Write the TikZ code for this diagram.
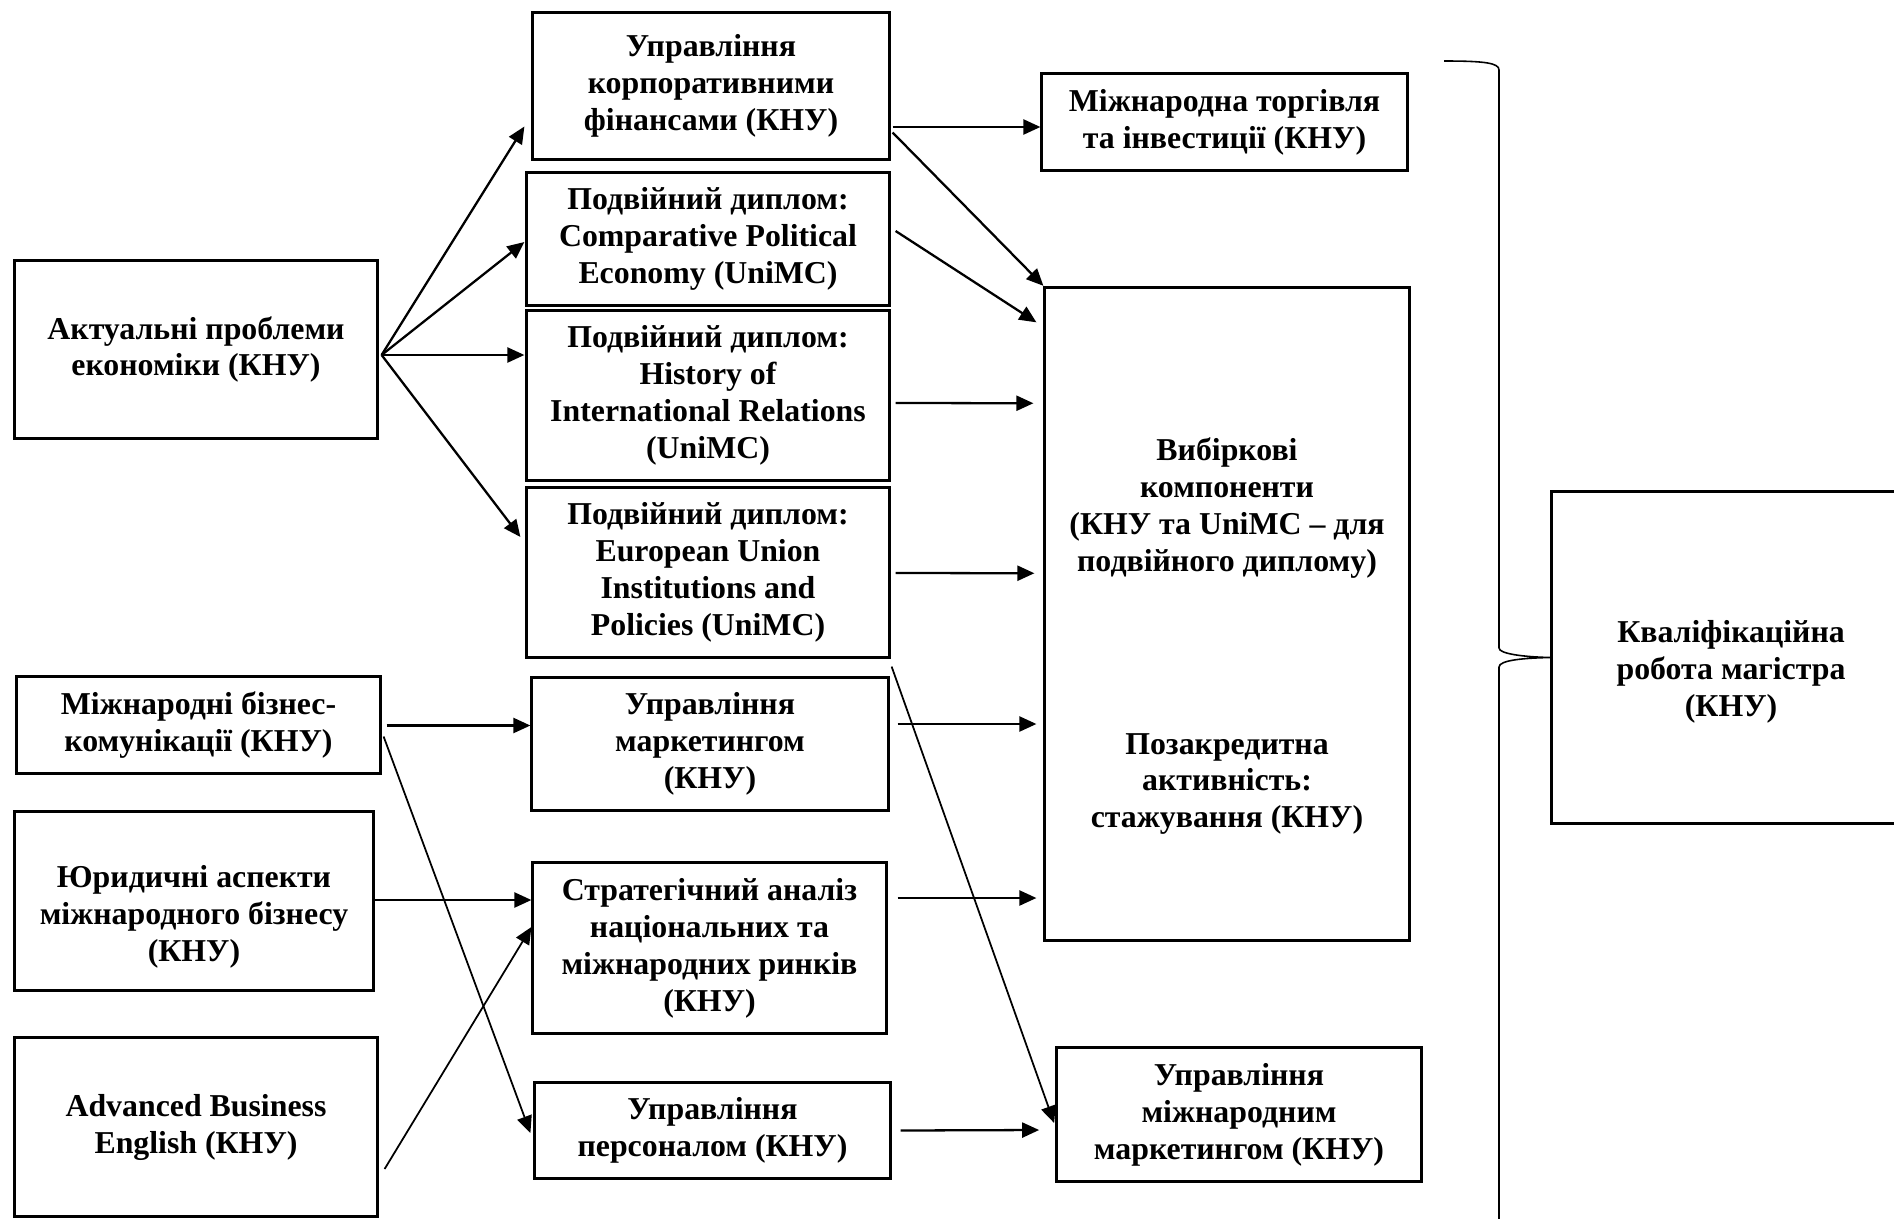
\documentclass[tikz,border=0pt]{standalone}
\usepackage{fontspec}
\setmainfont{Liberation Serif}
\usetikzlibrary{arrows.meta}

\newcommand{\boxfont}{\fontsize{9.05}{10.5}\selectfont\bfseries}

\tikzstyle{boxstyle} = [draw, line width=0.85pt, align=center, inner sep=0, font=\boxfont]
\tikzstyle{textstyle} = [align=center, inner sep=0, font=\boxfont]
\tikzstyle{arrowstyle} = [-{Triangle[length=0.17cm, width=0.15cm]}, line width=0.65pt]
\tikzstyle{thinarrow} = [arrowstyle, line width=0.5pt]
\tikzstyle{bracestyle} = [line width=0.45pt]

\begin{document}
\begin{tikzpicture}[x=0.01cm, y=-0.01cm]
  \useasboundingbox (0,0) rectangle (1894,1218);
  \clip (0,0) rectangle (1894,1218);

  % left column
  \node at (196, 349.5) [boxstyle, minimum width=3.62cm, minimum height=1.77cm] (A) {Актуальні проблеми\\економіки (КНУ)};
  \node at (198.5, 725) [boxstyle, minimum width=3.63cm, minimum height=0.96cm] (C) {Міжнародні бізнес-\\комунікації (КНУ)};
  \node at (194, 901) [boxstyle, minimum width=3.58cm, minimum height=1.78cm,
    label={[textstyle, yshift=-0.16cm]center:Юридичні аспекти\\міжнародного бізнесу\\(КНУ)}] (D) {};
  \node at (196, 1127) [boxstyle, minimum width=3.62cm, minimum height=1.78cm] (E) {Advanced Business\\English (КНУ)};

  % middle column
  \node at (711, 86) [boxstyle, minimum width=3.56cm, minimum height=1.47cm] (B1) {Управління\\корпоративними\\фінансами (КНУ)};
  \node at (708, 239) [boxstyle, minimum width=3.62cm, minimum height=1.32cm] (B2) {Подвійний диплом:\\Comparative Political\\Economy (UniMC)};
  \node at (708, 395.5) [boxstyle, minimum width=3.62cm, minimum height=1.69cm] (B3) {Подвійний диплом:\\History of\\International Relations\\(UniMC)};
  \node at (708, 572.5) [boxstyle, minimum width=3.62cm, minimum height=1.69cm] (B4) {Подвійний диплом:\\European Union\\Institutions and\\Policies (UniMC)};
  \node at (710, 744) [boxstyle, minimum width=3.56cm, minimum height=1.32cm] (F) {Управління\\маркетингом\\(КНУ)};
  \node at (709.5, 948) [boxstyle, minimum width=3.53cm, minimum height=1.70cm] (G) {Стратегічний аналіз\\національних та\\міжнародних ринків\\(КНУ)};
  \node at (712.5, 1130.5) [boxstyle, minimum width=3.55cm, minimum height=0.95cm] (H) {Управління\\персоналом (КНУ)};

  % right column
  \node at (1224.5, 122) [boxstyle, minimum width=3.65cm, minimum height=0.96cm] (I) {Міжнародна торгівля\\та інвестиції (КНУ)};
  \node at (1227, 614) [boxstyle, minimum width=3.64cm, minimum height=6.53cm] (J) {};
  \node at (1227, 508) [textstyle] (Jsel) {Вибіркові\\компоненти\\(КНУ та UniMC – для\\подвійного диплому)};
  \node at (1227, 784) [textstyle] (Jext) {Позакредитна\\активність:\\стажування (КНУ)};
  \node at (1239, 1114.5) [boxstyle, minimum width=3.645cm, minimum height=1.33cm] (K) {Управління\\міжнародним\\маркетингом (КНУ)};

  \node at (1731, 657.5) [boxstyle, minimum width=3.58cm, minimum height=3.31cm,
    label={[textstyle, yshift=-0.145cm]center:Кваліфікаційна\\робота магістра\\(КНУ)}] (L) {};

  % brace
  \draw[bracestyle] (1444,61) .. controls (1485,61) and (1499,63) .. (1499,70) -- (1499,648)
    .. controls (1499,654) and (1525,657) .. (L.west)
    .. controls (1525,658) and (1499,660) .. (1499,667) -- (1499,1260);

  \path[arrowstyle]
     ([shift={(3,5.5)}]A.east) edge ([shift={(-7,40.5)}]B1.west)
     ([shift={(3,5.5)}]A.east) edge ([shift={(-1,3)}]B2.west)
     ([shift={(3,5.5)}]A.east) edge ([shift={(-1,-40.5)}]B3.west)
     ([shift={(3,5.5)}]A.east) edge ([shift={(-5,-35.5)}]B4.west)

     ([shift={(2,41)}]B1.east) edge ([shift={(0,5)}]I.west)
     ([shift={(2,46.5)}]B1.east) edge (J.north west)
     ([shift={(5,-8)}]B2.east) edge ([shift={(-7,36.5)}]J.north west)
     ([shift={(5,7.5)}]B3.east) edge ([shift={(-10,-210.75)}]J.west)
     ([shift={(5,0.5)}]B4.east) edge ([shift={(-9,-40.75)}]J.west)
     ([shift={(8,-20)}]F.east) edge ([shift={(-7,110)}]J.west)
     ([shift={(10,-50)}]G.east) edge ([shift={(-7,284)}]J.west)
     ([shift={(9,0)}]H.east) edge ([shift={(-16,15.5)}]K.west)

     ([shift={(5,0.5)}]C.east) edge ([shift={(0,-18.5)}]F.west)
     ([shift={(0,-1)}]D.east) edge ([shift={(0,-48)}]G.west);

  \path[thinarrow]
     ([shift={(1,8)}]B4.south east) edge ([shift={(-1,8.5)}]K.west)
     ([shift={(2,11.5)}]C.east) edge ([shift={(-3,2.5)}]H.west)
     ([shift={(6,42)}]E.east) edge ([shift={(0,-21)}]G.west);
\end{tikzpicture}
\end{document}
